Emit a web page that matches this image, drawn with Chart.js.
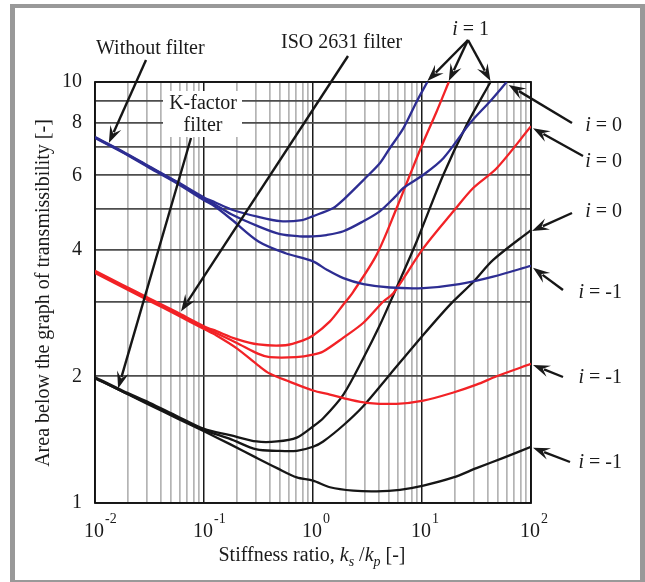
<!DOCTYPE html>
<html><head><meta charset="utf-8">
<script src="https://cdn.jsdelivr.net/npm/chart.js@4.4.1/dist/chart.umd.min.js"></script>
<style>
html,body{margin:0;padding:0;background:#fff;}
#wrap{position:relative;width:645px;height:582px;overflow:hidden;background:#fff;}
#frame{position:absolute;left:10px;top:4px;width:635px;height:578px;box-sizing:border-box;border-style:solid;border-color:#999;border-width:4px 5px 2px 5px;}
canvas{position:absolute;left:0;top:0;}
</style></head><body>
<div id="wrap"><div id="frame"></div><canvas id="c" width="645" height="582"></canvas></div>
<script>
// ---- tick labels ----
const xTickExponents = [-2, -1, 0, 1, 2];
const yTickLabels = [1, 2, 4, 6, 8, 10];

// ---- Without filter (blue) ----
const noFilterI1X = [0.01, 0.0178, 0.0316, 0.0562, 0.1, 0.126, 0.178, 0.316, 0.501, 0.794, 1, 1.535, 1.897, 3.0, 4.12, 5.08, 6.76, 8.93, 11.2];
const noFilterI1Y = [7.40, 6.85, 6.30, 5.80, 5.32, 5.18, 4.98, 4.78, 4.67, 4.70, 4.80, 5.02, 5.25, 5.90, 6.42, 6.97, 7.77, 8.98, 10.0];
const noFilterI0X = [0.01, 0.0178, 0.0316, 0.0562, 0.1, 0.126, 0.178, 0.316, 0.5, 0.75, 1, 1.33, 1.9, 2.9, 4.1, 5.6, 6.75, 10.3, 15.7, 27.5, 42, 59.8];
const noFilterI0Y = [7.38, 6.83, 6.28, 5.78, 5.28, 5.12, 4.85, 4.54, 4.35, 4.30, 4.30, 4.33, 4.42, 4.67, 4.93, 5.32, 5.60, 6.02, 6.59, 7.98, 8.99, 10.0];
const noFilterIm1X = [0.01, 0.0178, 0.0316, 0.0562, 0.1, 0.126, 0.178, 0.316, 0.56, 1, 1.34, 1.9, 2.9, 5.1, 10.3, 22, 45, 100];
const noFilterIm1Y = [7.36, 6.81, 6.25, 5.75, 5.24, 5.06, 4.72, 4.18, 3.92, 3.75, 3.58, 3.42, 3.31, 3.25, 3.24, 3.31, 3.45, 3.66];

// ---- K-factor filter (red) ----
const kFactorI1X = [0.01, 0.0178, 0.0316, 0.0562, 0.1, 0.13, 0.2, 0.316, 0.56, 0.8, 1, 1.43, 1.9, 2.33, 3.84, 5.86, 7.76, 10.3, 13.6, 17.6];
const kFactorI1Y = [3.56, 3.30, 3.06, 2.84, 2.63, 2.56, 2.45, 2.38, 2.37, 2.43, 2.50, 2.70, 2.96, 3.17, 3.89, 5.02, 6.02, 7.21, 8.50, 10.0];
const kFactorI0X = [0.01, 0.0178, 0.0316, 0.0562, 0.1, 0.13, 0.2, 0.316, 0.4, 0.7, 1, 1.24, 1.9, 2.9, 4.42, 5.46, 10.3, 19.4, 29.5, 48.4, 100];
const kFactorI0Y = [3.54, 3.28, 3.04, 2.82, 2.61, 2.53, 2.40, 2.26, 2.22, 2.22, 2.25, 2.29, 2.47, 2.68, 3.01, 3.15, 4.03, 4.93, 5.60, 6.24, 7.85];
const kFactorIm1X = [0.01, 0.0178, 0.0316, 0.0562, 0.1, 0.13, 0.2, 0.316, 0.4, 0.615, 1, 1.43, 2.18, 3.11, 5.86, 10.3, 19.4, 31.6, 48.4, 100];
const kFactorIm1Y = [3.52, 3.26, 3.02, 2.80, 2.59, 2.50, 2.33, 2.12, 2.03, 1.94, 1.85, 1.81, 1.76, 1.73, 1.72, 1.75, 1.83, 1.91, 2.00, 2.14];

// ---- ISO 2631 filter (black) ----
const isoI1X = [0.01, 0.0178, 0.0316, 0.0562, 0.1, 0.173, 0.304, 0.468, 0.71, 1, 1.24, 1.9, 2.9, 4.12, 5.46, 8.93, 15.7, 25.7, 42.5];
const isoI1Y = [1.99, 1.85, 1.73, 1.61, 1.50, 1.45, 1.40, 1.40, 1.43, 1.52, 1.59, 1.81, 2.21, 2.65, 3.12, 4.18, 6.02, 7.91, 10.0];
const isoI0X = [0.01, 0.0178, 0.0316, 0.0562, 0.1, 0.173, 0.304, 0.468, 0.71, 1, 1.24, 1.9, 2.9, 5.08, 10.3, 18.1, 29.5, 45, 100];
const isoI0Y = [1.98, 1.84, 1.72, 1.60, 1.49, 1.42, 1.34, 1.33, 1.33, 1.36, 1.40, 1.53, 1.70, 2.02, 2.51, 2.96, 3.35, 3.78, 4.45];
const isoIm1X = [0.01, 0.0178, 0.0316, 0.0562, 0.1, 0.173, 0.304, 0.468, 0.71, 1, 1.43, 2.34, 3.84, 6.28, 10.3, 19.4, 31.6, 55.7, 100];
const isoIm1Y = [1.98, 1.84, 1.71, 1.59, 1.48, 1.38, 1.28, 1.21, 1.15, 1.13, 1.09, 1.07, 1.066, 1.075, 1.10, 1.15, 1.21, 1.28, 1.36];

const BLUE = '#2d2d92', RED = '#f22226', BLACK = '#161616';
const FONT = '"Liberation Serif", "Times New Roman", serif';

function series(label, xs, ys, color) {
  return { label, data: xs.map((x, i) => ({ x, y: ys[i] })), borderColor: color, borderWidth: 2.3,
           pointRadius: 0, fill: false, tension: 0.3 };
}

const xGrid = [];
for (let e = -2; e < 2; e++) for (let m = 1; m < 10; m++) xGrid.push(+(m * Math.pow(10, e)).toPrecision(3));
xGrid.push(100);
const yGrid = [1, 2, 3, 4, 5, 6, 7, 8, 9, 10];
const isDecade = v => Math.abs(Math.log10(v) - Math.round(Math.log10(v))) < 1e-6;

function arrow(ctx, x0, y0, x1, y1) {
  const a = Math.atan2(y1 - y0, x1 - x0), L = 17, W = 6;
  const c = Math.cos(a), s = Math.sin(a);
  ctx.beginPath(); ctx.moveTo(x0, y0); ctx.lineTo(x1 - c * L * 0.7, y1 - s * L * 0.7); ctx.stroke();
  ctx.beginPath(); ctx.moveTo(x1, y1);
  ctx.lineTo(x1 - L * c + W * s, y1 - L * s - W * c);
  ctx.lineTo(x1 - 0.62 * L * c, y1 - 0.62 * L * s);
  ctx.lineTo(x1 - L * c - W * s, y1 - L * s + W * c);
  ctx.closePath(); ctx.fill();
}
function iLabel(ctx, rhs, rightX, baseY) {
  ctx.font = 'italic 20px ' + FONT; const wi = ctx.measureText('i').width;
  ctx.font = '20px ' + FONT; const wr = ctx.measureText(rhs).width;
  const x0 = rightX - wi - wr;
  ctx.textAlign = 'left'; ctx.textBaseline = 'alphabetic';
  ctx.font = 'italic 20px ' + FONT; ctx.fillText('i', x0, baseY);
  ctx.font = '20px ' + FONT; ctx.fillText(rhs, x0 + wi, baseY);
}
const last = (xs, ys) => ({ x: xs[xs.length - 1], y: ys[ys.length - 1] });

const deco = {
  id: 'deco',
  beforeDatasetsDraw(chart) {
    const ctx = chart.ctx, a = chart.chartArea;
    ctx.save();
    ctx.strokeStyle = '#111'; ctx.lineWidth = 1.8;
    ctx.strokeRect(a.left, a.top, a.right - a.left, a.bottom - a.top);
    ctx.fillStyle = '#fff'; ctx.fillRect(163, 91, 79, 46);
    ctx.fillStyle = '#1a1a1a'; ctx.font = '20px ' + FONT; ctx.textAlign = 'center'; ctx.textBaseline = 'alphabetic';
    ctx.fillText('K-factor', 203, 109);
    ctx.fillText('filter', 203, 131);
    ctx.restore();
  },
  afterDraw(chart) {
    const ctx = chart.ctx, xs = chart.scales.x, ys = chart.scales.y;
    const P = (x, y) => [xs.getPixelForValue(x), ys.getPixelForValue(y)];
    ctx.save();
    ctx.fillStyle = '#1a1a1a'; ctx.strokeStyle = '#161616'; ctx.lineWidth = 2.4;
    // x tick labels
    xTickExponents.forEach(e => {
      const px = xs.getPixelForValue(Math.pow(10, e)) - 1;
      ctx.font = '20px ' + FONT; ctx.textAlign = 'center'; ctx.textBaseline = 'alphabetic';
      ctx.fillText('10', px, 537);
      const w = ctx.measureText('10').width;
      ctx.font = '14px ' + FONT; ctx.textAlign = 'left';
      ctx.fillText(String(e), px + w / 2 + 1, 523);
    });
    // x title
    const parts = [['Stiffness ratio, ', '20px ', 0], ['k', 'italic 20px ', 0], ['s', 'italic 14px ', 5],
                   [' /', '20px ', 0], ['k', 'italic 20px ', 0], ['p', 'italic 14px ', 5], [' [-]', '20px ', 0]];
    let tot = 0; parts.forEach(p => { ctx.font = p[1] + FONT; tot += ctx.measureText(p[0]).width; });
    let cx = 312 - tot / 2; ctx.textAlign = 'left';
    parts.forEach(p => { ctx.font = p[1] + FONT; ctx.fillText(p[0], cx, 561 + p[2]); cx += ctx.measureText(p[0]).width; });
    // y title
    ctx.save(); ctx.translate(44, 293); ctx.rotate(-Math.PI / 2);
    ctx.font = '20px ' + FONT; ctx.textAlign = 'center'; ctx.textBaseline = 'middle';
    ctx.fillText('Area below the graph of transmissibility [-]', 0, 0);
    ctx.restore();
    // group labels
    ctx.font = '20px ' + FONT; ctx.textAlign = 'left'; ctx.textBaseline = 'alphabetic';
    ctx.fillText('Without filter', 96, 54);
    ctx.fillText('ISO 2631 filter', 281, 48);
    // group arrows
    let t;
    t = P(0.0134, 7.16); arrow(ctx, 146, 60, t[0], t[1]);
    t = P(0.0163, 1.87); arrow(ctx, 191, 138, t[0], t[1]);
    t = P(0.0615, 2.85); arrow(ctx, 348, 56, t[0], t[1]);
    // i = 1
    iLabel(ctx, ' = 1', 489, 35);
    [last(noFilterI1X, noFilterI1Y), last(kFactorI1X, kFactorI1Y), last(isoI1X, isoI1Y)].forEach(pt => {
      const q = P(pt.x, pt.y); arrow(ctx, 468, 40, q[0], q[1] - 1);
    });
    // i = 0
    iLabel(ctx, ' = 0', 622, 131);
    iLabel(ctx, ' = 0', 622, 167);
    iLabel(ctx, ' = 0', 622, 217);
    t = P(last(noFilterI0X, noFilterI0Y).x, last(noFilterI0X, noFilterI0Y).y); arrow(ctx, 572, 123, t[0] + 2, t[1] + 3);
    t = P(100, kFactorI0Y[kFactorI0Y.length - 1]); arrow(ctx, 583, 156, t[0] + 2, t[1] + 2);
    t = P(100, isoI0Y[isoI0Y.length - 1]); arrow(ctx, 572, 213, t[0] + 1, t[1] + 1);
    // i = -1
    iLabel(ctx, ' = -1', 622, 298);
    iLabel(ctx, ' = -1', 622, 383);
    iLabel(ctx, ' = -1', 622, 468);
    t = P(100, noFilterIm1Y[noFilterIm1Y.length - 1]); arrow(ctx, 563, 290, t[0] + 2, t[1] + 2);
    t = P(100, kFactorIm1Y[kFactorIm1Y.length - 1]); arrow(ctx, 563, 377, t[0] + 2, t[1] + 1);
    t = P(100, isoIm1Y[isoIm1Y.length - 1]); arrow(ctx, 570, 462, t[0] + 2, t[1] + 1);
    ctx.restore();
  }
};

new Chart(document.getElementById('c'), {
  type: 'line',
  data: {
    datasets: [
      series('Without filter, i = 1', noFilterI1X, noFilterI1Y, BLUE),
      series('Without filter, i = 0', noFilterI0X, noFilterI0Y, BLUE),
      series('Without filter, i = -1', noFilterIm1X, noFilterIm1Y, BLUE),
      series('K-factor filter, i = 1', kFactorI1X, kFactorI1Y, RED),
      series('K-factor filter, i = 0', kFactorI0X, kFactorI0Y, RED),
      series('K-factor filter, i = -1', kFactorIm1X, kFactorIm1Y, RED),
      series('ISO 2631 filter, i = 1', isoI1X, isoI1Y, BLACK),
      series('ISO 2631 filter, i = 0', isoI0X, isoI0Y, BLACK),
      series('ISO 2631 filter, i = -1', isoIm1X, isoIm1Y, BLACK)
    ]
  },
  options: {
    responsive: false, animation: false, devicePixelRatio: 1,
    layout: { padding: { left: 0, top: 82, right: 114, bottom: 0 } },
    plugins: { legend: { display: false }, tooltip: { enabled: false } },
    scales: {
      x: {
        type: 'logarithmic', min: 0.01, max: 100,
        afterBuildTicks: s => { s.ticks = xGrid.map(v => ({ value: v })); },
        afterFit: s => { s.height = 79; },
        ticks: { display: false, autoSkip: false },
        grid: { drawTicks: false, color: c => isDecade(c.tick.value) ? '#1a1a1a' : '#b4b4b4',
                lineWidth: c => isDecade(c.tick.value) ? 1.5 : 1.7 },
        border: { display: false }
      },
      y: {
        type: 'logarithmic', min: 1, max: 10,
        afterBuildTicks: s => { s.ticks = yGrid.map(v => ({ value: v })); },
        afterFit: s => { s.width = 95; },
        ticks: { autoSkip: false, padding: 13, color: '#1a1a1a', font: { family: FONT, size: 20 },
                 callback: v => yTickLabels.includes(v) ? String(v) : '' },
        grid: { drawTicks: false, color: '#4d4d4d', lineWidth: 1.8 },
        border: { display: false }
      }
    }
  },
  plugins: [deco]
});
</script>
</body></html>
